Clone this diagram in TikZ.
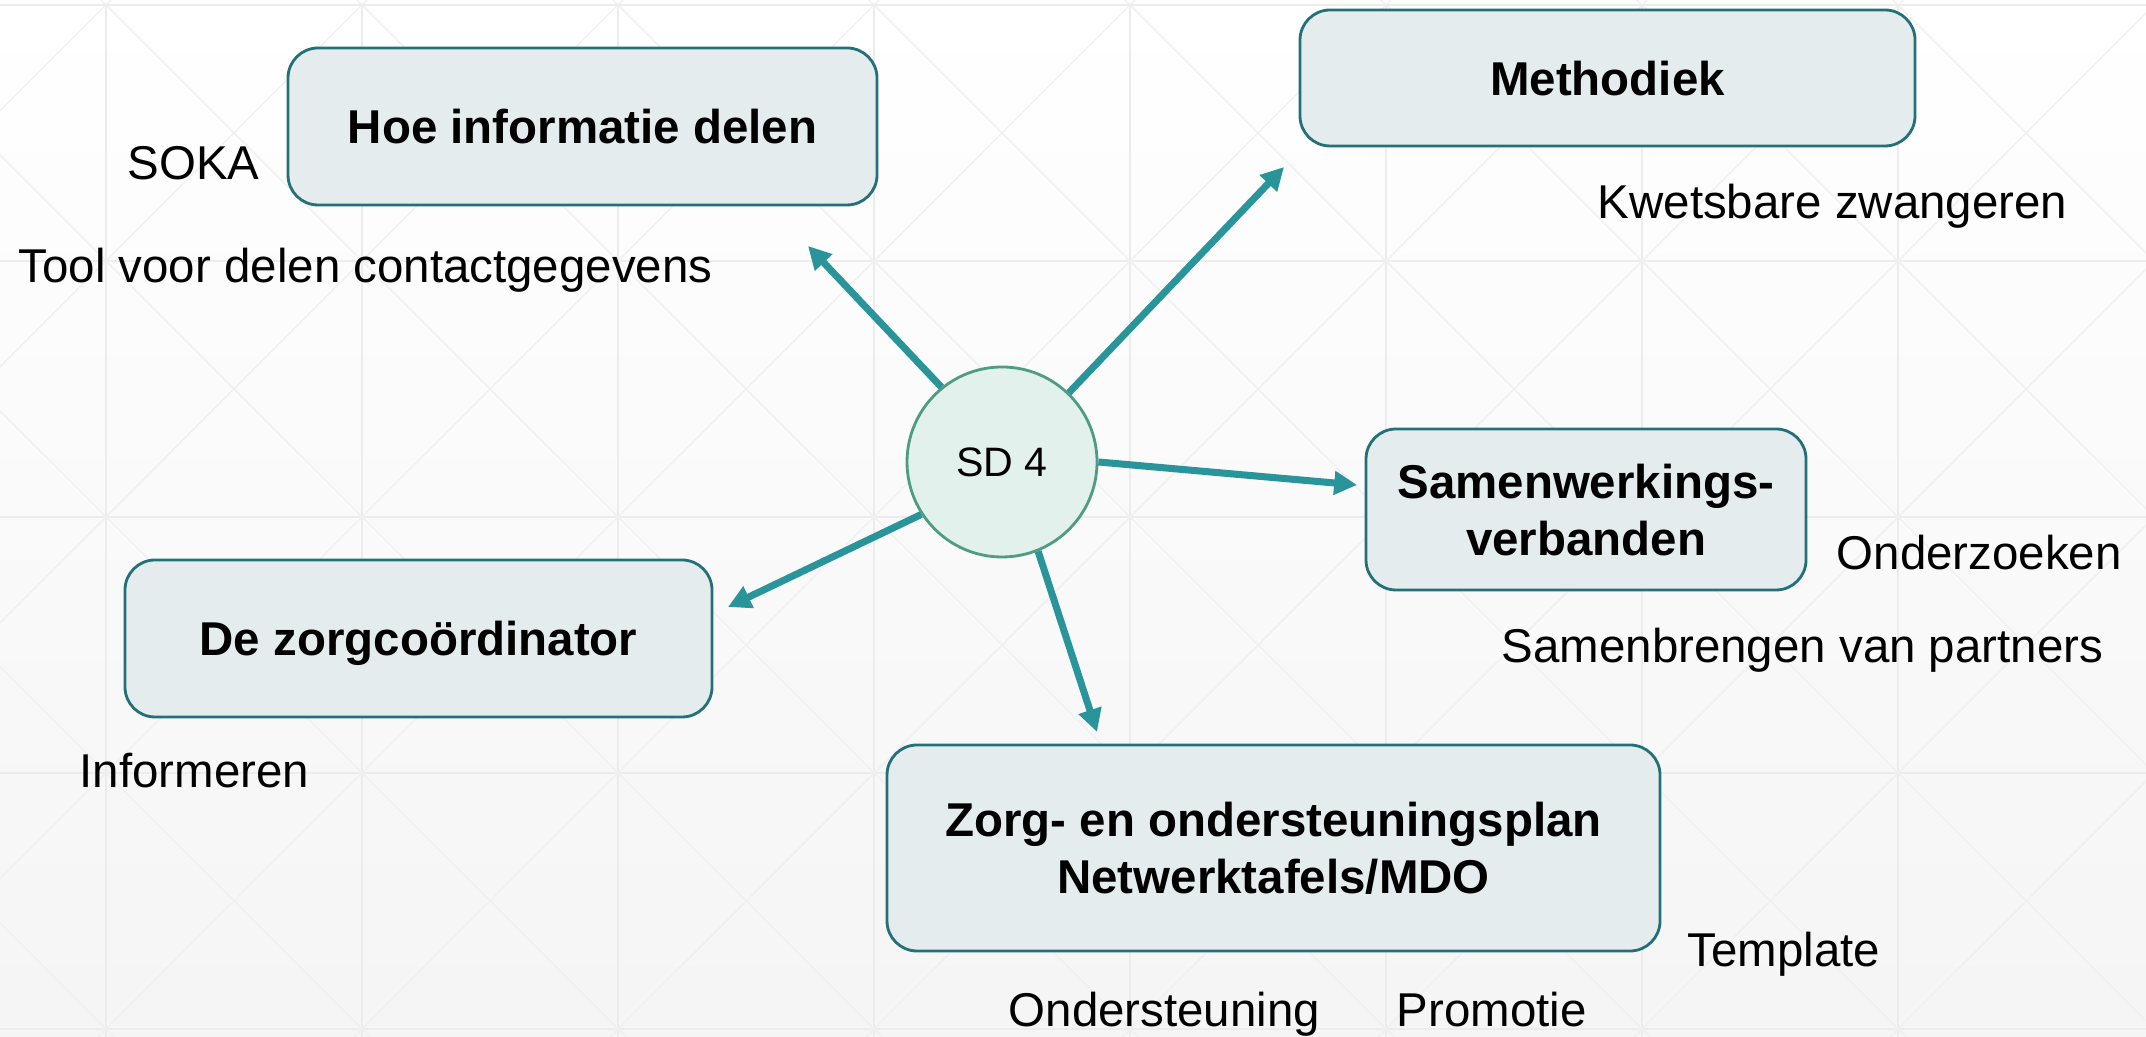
\documentclass[tikz,border=0pt]{standalone}
\usepackage{fontspec}
\setmainfont{Liberation Sans}
\usetikzlibrary{arrows.meta}

\definecolor{boxfill}{RGB}{228,236,238}
\definecolor{boxline}{RGB}{36,112,120}
\definecolor{sdfill}{RGB}{226,241,236}
\definecolor{sdline}{RGB}{78,156,130}
\definecolor{linkcol}{RGB}{41,149,155}
\definecolor{gridcol}{RGB}{236,236,236}
\definecolor{diagcol}{RGB}{240,240,240}

\begin{document}
\begin{tikzpicture}[
  box/.style={draw=boxline, fill=boxfill, line width=0.8pt, rounded corners=0.3cm,
    align=center, font=\fontsize{13.5}{16.2}\selectfont\bfseries, text depth=0pt},
  remark/.style={anchor=base west, inner sep=0pt, font=\fontsize{13.5}{16.2}\selectfont},
  link/.style={draw=linkcol, line width=2pt, -{Triangle[length=6.5pt,width=6.5pt]}},
  gridline/.style={draw=gridcol, line width=0.4pt},
  diagline/.style={draw=diagcol, line width=0.4pt}
]

\useasboundingbox (0,0) rectangle (21.46,10.37);
\shade [top color=white, bottom color=black!4] (0,0) rectangle (21.46,10.37);
\begin{scope}
\clip (0,0) rectangle (21.46,10.37);
\begin{scope}[shift={(1.06,0.08)}]
\draw [gridline, step=2.56] (-2.56,-2.56) grid (20.48,10.24);
\foreach \k in {-5,...,12} {
  \draw [diagline] (\k*2.56-2.56,-2.56) -- ++(15.36,15.36);
  \draw [diagline] (\k*2.56+2.56,-2.56) -- ++(-15.36,15.36);
}
\end{scope}
\end{scope}

\coordinate (SD) at (10.02,5.75);
\coordinate (HOE) at (5.825,9.105);
\coordinate (METH) at (16.075,9.59);
\coordinate (SAMEN) at (15.86,5.275);
\coordinate (ZORGCO) at (4.185,3.985);
\coordinate (PLAN) at (12.735,1.89);

\coordinate (tipHoe) at (8.08,7.91);
\coordinate (tipMeth) at (12.84,8.70);
\coordinate (tipSamen) at (13.57,5.52);
\coordinate (tipZorgco) at (7.28,4.30);
\coordinate (tipPlan) at (10.97,3.05);

\node [box, minimum width=5.89cm, minimum height=1.57cm] (hoe) at (HOE) {Hoe informatie delen};
\node [box, minimum width=6.15cm, minimum height=1.36cm] (meth) at (METH) {Methodiek};
\node [box, minimum width=4.40cm, minimum height=1.61cm] (samen) at (SAMEN) {Samenwerkings-\\verbanden};
\node [box, minimum width=5.87cm, minimum height=1.57cm] (zorgco) at (ZORGCO) {De zorgcoördinator};
\node [box, minimum width=7.73cm, minimum height=2.06cm] (plan) at (PLAN) {Zorg- en ondersteuningsplan\\Netwerktafels/MDO};

\node [circle, draw=sdline, fill=sdfill, line width=0.8pt, minimum size=1.9cm, inner sep=0pt,
  font=\fontsize{11.7}{14}\selectfont] (sd) at (SD) {SD 4};

\draw [link] (sd.129) -- (tipHoe);
\draw [link] (sd.46) -- (tipMeth);
\draw [link] (sd.0) -- (tipSamen);
\draw [link] (sd.213) -- (tipZorgco);
\draw [link] (sd.292) -- (tipPlan);

\node [remark] (soka) at (1.27,8.57) {SOKA};
\node [remark] (tool) at (0.18,7.54) {Tool voor delen contactgegevens};
\node [remark] (kwets) at (15.97,8.18) {Kwetsbare zwangeren};
\node [remark] (onderz) at (18.36,4.67) {Onderzoeken};
\node [remark] (samenbr) at (15.01,3.74) {Samenbrengen van partners};
\node [remark] (inform) at (0.79,2.49) {Informeren};
\node [remark] (templ) at (16.87,0.70) {Template};
\node [remark] (onderst) at (10.08,0.10) {Ondersteuning};
\node [remark] (promo) at (13.96,0.10) {Promotie};
\end{tikzpicture}
\end{document}
